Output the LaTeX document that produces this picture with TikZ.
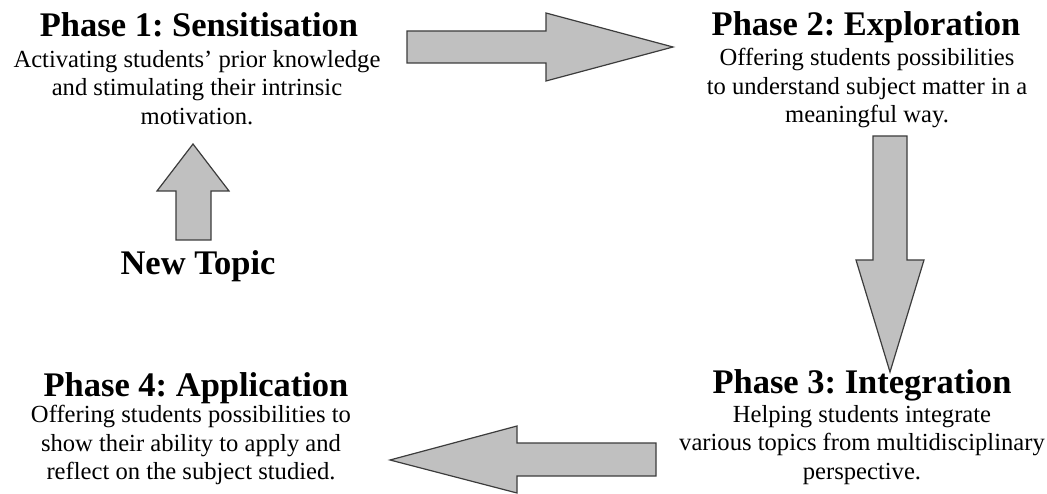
\documentclass[tikz,border=0pt]{standalone}
\usepackage{fontspec}
\setmainfont{Liberation Serif}
\frenchspacing
\definecolor{arrowgray}{RGB}{192,192,192}
\definecolor{arrowedge}{RGB}{60,60,60}
\tikzset{
  ttl/.style={font=\bfseries\fontsize{34.5}{36}\selectfont, inner sep=0pt, anchor=base},
  desc/.style={font=\fontsize{24.6}{28.5}\selectfont, align=center, inner sep=0pt, anchor=north},
  blockarrow/.style={fill=arrowgray, draw=arrowedge, line width=1.2pt, line join=miter}
}
\begin{document}
\begin{tikzpicture}[x=1pt,y=-1pt]
\useasboundingbox (0,0) rectangle (1047,494);
% texts
\node[ttl] (p1t) at (199,37) {Phase 1: Sensitisation};
\node[desc] (p1d) at (197,50) {Activating students’ prior knowledge\\and stimulating their intrinsic\\motivation.};
\node[ttl] (p2t) at (866,36) {Phase 2: Exploration};
\node[desc] (p2d) at (867,48) {Offering students possibilities\\to understand subject matter in a\\meaningful way.};
\node[ttl] (p3t) at (862,393) {Phase 3: Integration};
\node[desc] (p3d) at (862,405) {Helping students integrate\\various topics from multidisciplinary\\perspective.};
\node[ttl] (p4t) at (196,396) {Phase 4: Application};
\node[desc] (p4d) at (191,405) {Offering students possibilities to\\show their ability to apply and\\reflect on the subject studied.};
\node[ttl] (nt) at (198,275) {New Topic};
% block arrows
\draw[blockarrow] (407,31) -- (546,31) -- (546,13) -- (673,47) -- (546,81) -- (546,63) -- (407,63) -- cycle;
\draw[blockarrow] (873,136) -- (907,136) -- (907,260) -- (924,260) -- (890,372) -- (856,260) -- (873,260) -- cycle;
\draw[blockarrow] (656,443) -- (517,443) -- (517,426) -- (390,460) -- (517,493) -- (517,476) -- (656,476) -- cycle;
\draw[blockarrow] (193,144) -- (229,191) -- (211,191) -- (211,240) -- (176,240) -- (176,191) -- (157,191) -- cycle;
\end{tikzpicture}
\end{document}
